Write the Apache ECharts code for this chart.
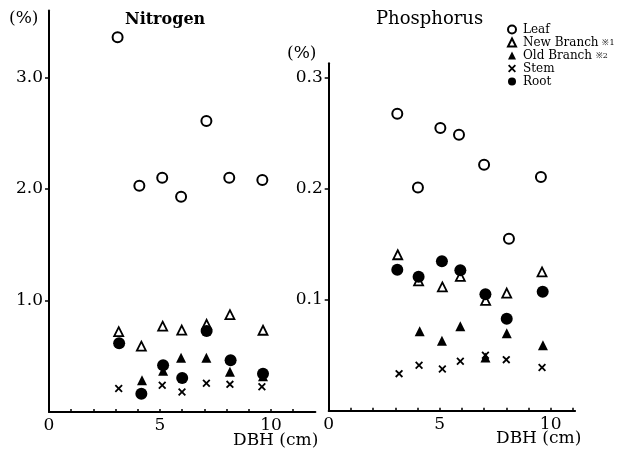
<!DOCTYPE html>
<html><head><meta charset="utf-8">
<script src="https://cdn.jsdelivr.net/npm/echarts@6/dist/echarts.min.js"></script>
<style>html,body{margin:0;padding:0;background:#fff}#c{width:623px;height:454px}</style>
</head><body><div id="c"></div>
<script>
// DBH (cm) values per series
var nLeafX = [3.09, 4.07, 5.10, 5.95, 7.09, 8.12, 9.61];
var nLeafY = [3.36, 2.03, 2.10, 1.93, 2.61, 2.10, 2.08];
var nNewX  = [3.14, 4.16, 5.12, 5.98, 7.10, 8.15, 9.64];
var nNewY  = [0.72, 0.59, 0.77, 0.735, 0.786, 0.873, 0.733];
var nOldX  = [4.19, 5.14, 5.95, 7.09, 8.15, 9.64];
var nOldY  = [0.284, 0.37, 0.487, 0.487, 0.36, 0.32];
var nStemX = [3.14, 5.10, 5.99, 7.09, 8.15, 9.59];
var nStemY = [0.21, 0.24, 0.18, 0.257, 0.248, 0.227];
var nRootX = [3.16, 4.16, 5.14, 6.00, 7.10, 8.18, 9.64];
var nRootY = [0.616, 0.164, 0.42, 0.305, 0.726, 0.464, 0.344];

var pLeafX = [3.09, 4.02, 5.03, 5.87, 7.00, 8.12, 9.56];
var pLeafY = [0.2676, 0.201, 0.2547, 0.2487, 0.2216, 0.155, 0.2105];
var pNewX  = [3.11, 4.05, 5.12, 5.93, 7.07, 8.02, 9.61];
var pNewY  = [0.1405, 0.117, 0.1115, 0.121, 0.0994, 0.106, 0.125];
var pOldX  = [4.10, 5.10, 5.93, 7.06, 8.02, 9.65];
var pOldY  = [0.0715, 0.063, 0.076, 0.048, 0.0697, 0.059];
var pStemX = [3.17, 4.07, 5.12, 5.93, 7.06, 8.00, 9.61];
var pStemY = [0.0334, 0.041, 0.0376, 0.0445, 0.050, 0.046, 0.039];
var pRootX = [3.09, 4.05, 5.10, 5.93, 7.06, 8.02, 9.64];
var pRootY = [0.127, 0.1207, 0.1346, 0.1265, 0.105, 0.0829, 0.1072];

var seriesNames = ['Leaf', 'New Branch', 'Old Branch', 'Stem', 'Root'];
var nTicks = [1.0, 2.0, 3.0];
var pTicks = [0.1, 0.2, 0.3];
var xTickLabels = [0, 5, 10];

function zip(xs, ys){ return xs.map(function(x,i){ return [x, ys[i]]; }); }

var FONT = '"DejaVu Serif","Liberation Serif",serif';
var xPath = 'path://M1.6,0 L5,3.4 L8.4,0 L10,1.6 L6.6,5 L10,8.4 L8.4,10 L5,6.6 L1.6,10 L0,8.4 L3.4,5 L0,1.6 Z';

var styles = {
  'Leaf': {symbol:'circle', symbolSize:10, itemStyle:{color:'#fff', borderColor:'#000', borderWidth:2, opacity:1}},
  'New Branch': {symbol:'triangle', symbolSize:9, itemStyle:{color:'#fff', borderColor:'#000', borderWidth:1.8, opacity:1}},
  'Old Branch': {symbol:'triangle', symbolSize:10, itemStyle:{color:'#000', opacity:1}},
  'Stem': {symbol:xPath, symbolSize:8, itemStyle:{color:'#000', opacity:1}},
  'Root': {symbol:'circle', symbolSize:12, itemStyle:{color:'#000', opacity:1}}
};

var nData = [zip(nLeafX,nLeafY), zip(nNewX,nNewY), zip(nOldX,nOldY), zip(nStemX,nStemY), zip(nRootX,nRootY)];
var pData = [zip(pLeafX,pLeafY), zip(pNewX,pNewY), zip(pOldX,pOldY), zip(pStemX,pStemY), zip(pRootX,pRootY)];

var series = [];
[nData, pData].forEach(function(set, gi){
  set.forEach(function(d, i){
    var nm = seriesNames[i];
    series.push({type:'scatter', name:nm, xAxisIndex:gi, yAxisIndex:gi, data:d,
      symbol:styles[nm].symbol, symbolSize:styles[nm].symbolSize, itemStyle:styles[nm].itemStyle,
      emphasis:{disabled:true}, z: 2 + i});
  });
});

function xAxis(gi, max){
  return {type:'value', gridIndex:gi, min:0, max:max, interval:1,
    axisLine:{show:true, onZero:false, lineStyle:{color:'#000', width:2}},
    axisTick:{show:true, inside:true, length:3, lineStyle:{color:'#000', width:1.5}},
    splitLine:{show:false},
    axisLabel:{show:true, color:'#000', fontFamily:FONT, fontSize:17, margin:5,
      formatter:function(v){ var r=Math.round(v); return (Math.abs(v-r)<1e-6 && xTickLabels.indexOf(r)>=0) ? String(r) : ''; },
      showMaxLabel:false}
  };
}
function yAxis(gi, max, interval, ticks){
  return {type:'value', gridIndex:gi, min:0, max:max, interval:interval,
    axisLine:{show:true, lineStyle:{color:'#000', width:2}},
    axisTick:{show:true, length:4, lineStyle:{color:'#000', width:1.5}},
    splitLine:{show:false},
    axisLabel:{show:true, color:'#000', fontFamily:FONT, fontSize:17, margin:6,
      showMinLabel:false, showMaxLabel:false,
      formatter:function(v){
        for (var k=0;k<ticks.length;k++){ if (Math.abs(v-ticks[k])<1e-9) return ticks[k].toFixed(1); }
        return '';
      }}
  };
}

var chart = echarts.init(document.getElementById('c'), null, {renderer:'canvas'});
chart.setOption({
  backgroundColor:'#fff',
  animation:false,
  grid:[
    {left:49, top:10.6, width:266.4, height:401.4},
    {left:328.7, top:63.3, width:246.4, height:347.4}
  ],
  xAxis:[xAxis(0, 12), xAxis(1, 11.1)],
  yAxis:[yAxis(0, 3.6, 1, nTicks), yAxis(1, 0.313, 0.1, pTicks)],
  legend:{
    orient:'vertical', left:502, top:18, itemGap:0, itemWidth:8, itemHeight:8,
    data:seriesNames, selectedMode:false,
    textStyle:{fontFamily:FONT, fontSize:12, lineHeight:13, color:'#000', padding:[0,0,0,2],
      rich:{s:{fontFamily:FONT, fontSize:8, lineHeight:13, color:'#000'}}},
    formatter:function(n){
      if (n==='New Branch') return 'New Branch {s|※1}';
      if (n==='Old Branch') return 'Old Branch {s|※2}';
      return n;
    }
  },
  graphic:[
    {type:'text', left:9, top:10, style:{text:'(%)', font:'17px '+FONT, fill:'#000'}},
    {type:'text', left:125, top:12, style:{text:'Nitrogen', font:'bold 16px '+FONT, fill:'#000'}},
    {type:'text', left:376, top:10, style:{text:'Phosphorus', font:'18px '+FONT, fill:'#000'}},
    {type:'text', left:287, top:45, style:{text:'(%)', font:'17px '+FONT, fill:'#000'}},
    {type:'text', left:233, top:432, style:{text:'DBH (cm)', font:'17px '+FONT, fill:'#000'}},
    {type:'text', left:496, top:430, style:{text:'DBH (cm)', font:'17px '+FONT, fill:'#000'}}
  ],
  series:series
});
</script>
</body></html>
